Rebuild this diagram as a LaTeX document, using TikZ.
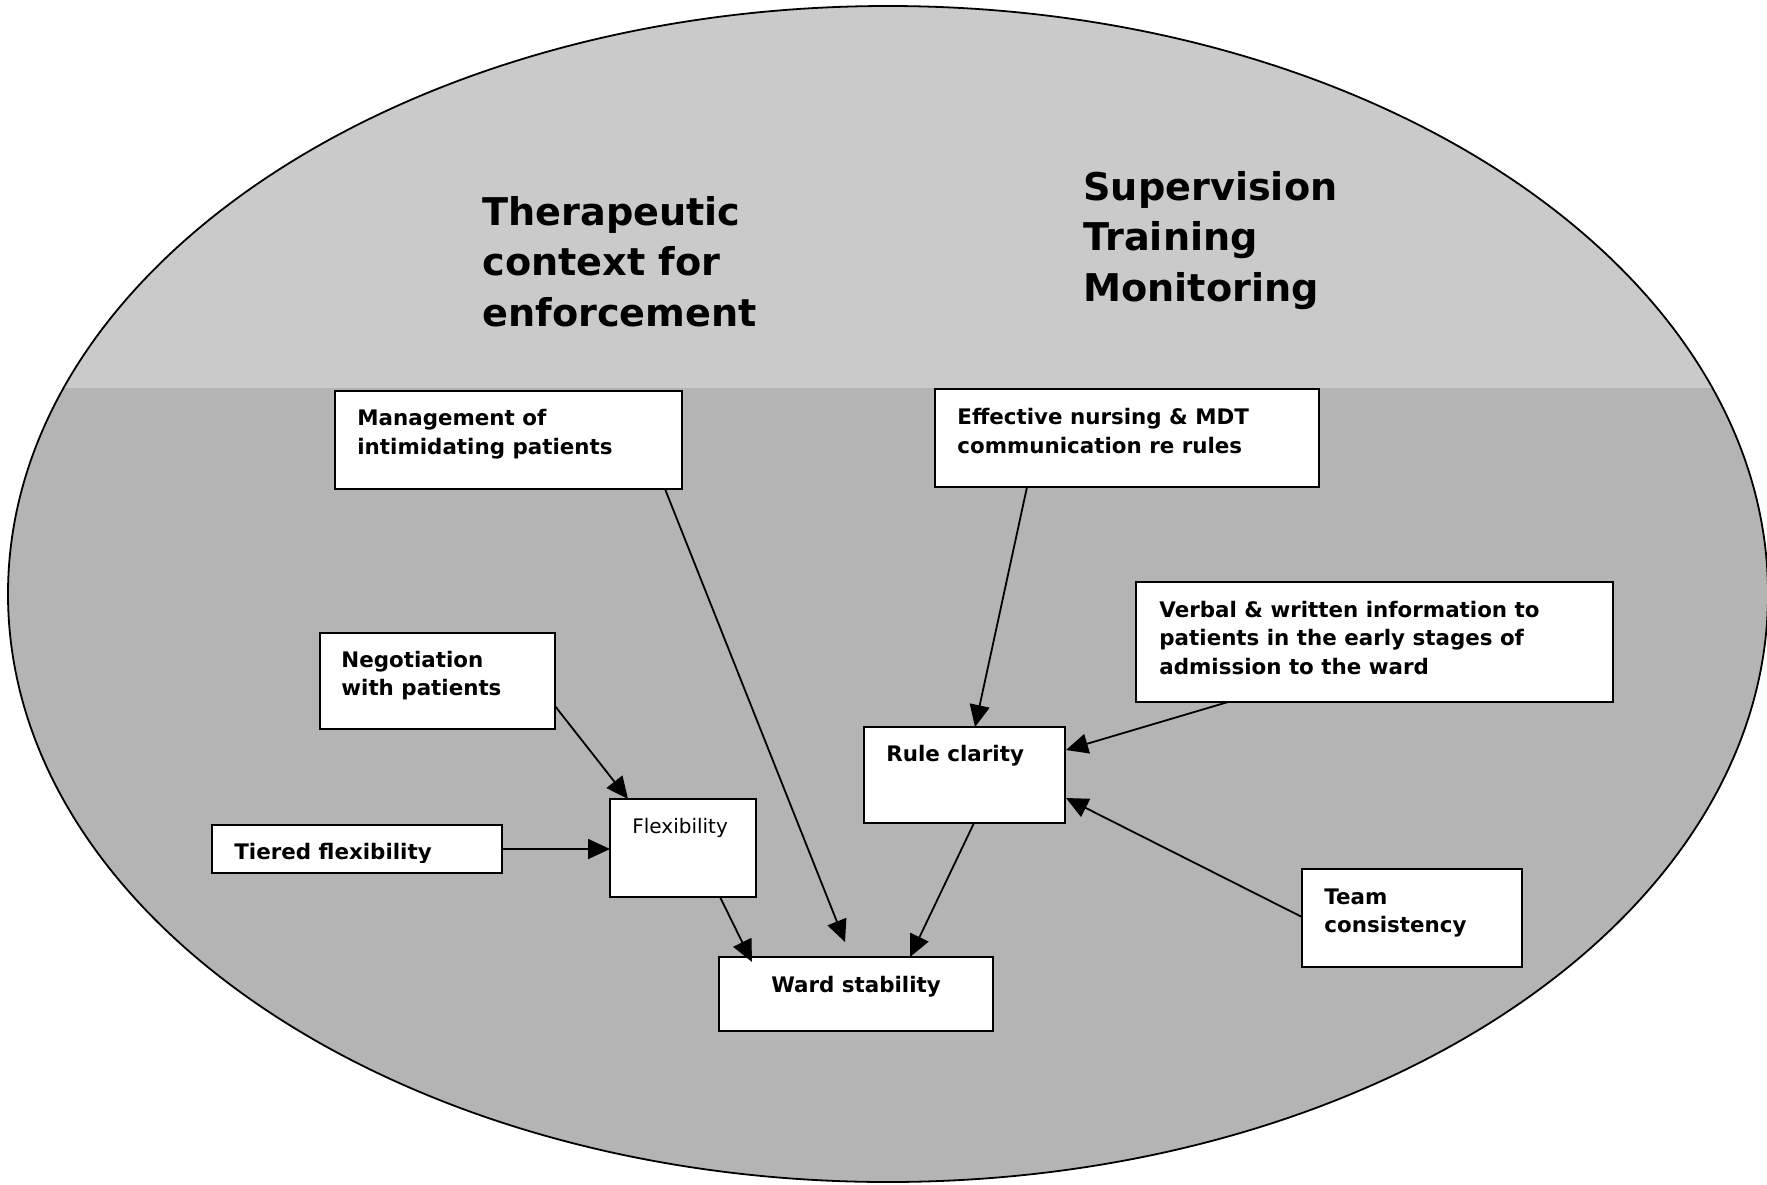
\documentclass[tikz,border=0pt]{standalone}
\usepackage{fontspec}
\setmainfont{DejaVu Sans}
\usetikzlibrary{arrows.meta,calc}
\definecolor{upgray}{RGB}{202,202,202}
\definecolor{lowgray}{RGB}{180,180,180}
\begin{document}
\begin{tikzpicture}[x=0.5pt,y=-0.5pt,
  box/.style={draw, fill=white, line width=1pt, inner sep=0pt, outer sep=0pt, anchor=north west},
  txt/.style={anchor=base west, inner sep=0pt, font=\bfseries\fontsize{10.7}{14.4}\selectfont},
  title/.style={anchor=base west, inner sep=0pt, font=\bfseries\fontsize{19.1}{25.3}\selectfont},
  arr/.style={-{Triangle[length=11pt,width=10pt]}, line width=0.9pt}]
\useasboundingbox (0,0) rectangle (1767,1184);
% background ellipse
\fill[lowgray] (888,594) ellipse [x radius=880, y radius=588];
\begin{scope}
  \clip (888,594) ellipse [x radius=880, y radius=588];
  \fill[upgray] (0,0) rectangle (1767,388);
\end{scope}
\draw[line width=0.9pt] (888,594) ellipse [x radius=880, y radius=588];
% titles
\node[title] (ttl1) at (482,225) {\parbox[t]{300pt}{\raggedright Therapeutic\\context for\\enforcement}};
\node[title] (ttl2) at (1083,200) {\parbox[t]{300pt}{\raggedright Supervision\\Training\\Monitoring}};
% boxes
\node[box, minimum width=173.5pt, minimum height=49pt] (mgmt) at (335,391) {};
\node[box, minimum width=192pt, minimum height=49pt] (eff) at (935,389) {};
\node[box, minimum width=238.5pt, minimum height=60pt] (verbal) at (1136,582) {};
\node[box, minimum width=117.5pt, minimum height=48pt] (neg) at (320,633) {};
\node[box, minimum width=145pt, minimum height=24pt] (tier) at (212,825) {};
\node[box, minimum width=73pt, minimum height=49pt] (flex) at (610,799) {};
\node[box, minimum width=100.5pt, minimum height=48pt] (rule) at (864,727) {};
\node[box, minimum width=110pt, minimum height=49pt] (team) at (1302,869) {};
\node[box, minimum width=137pt, minimum height=37pt] (ward) at (719,957) {};
% box texts
\node[txt] (mgmtT) at ($(mgmt.north west)+(22,34.5)$) {\parbox[t]{300pt}{\raggedright Management of\\intimidating patients}};
\node[txt] (effT) at ($(eff.north west)+(22,35.5)$) {\parbox[t]{300pt}{\raggedright Effective nursing \& MDT\\communication re rules}};
\node[txt] (verbalT) at ($(verbal.north west)+(23,35)$) {\parbox[t]{300pt}{\raggedright Verbal \& written information to\\patients in the early stages of\\admission to the ward}};
\node[txt] (negT) at ($(neg.north west)+(21,34)$) {\parbox[t]{300pt}{\raggedright Negotiation\\with patients}};
\begin{scope}
  \clip (tier.north west) rectangle ($(tier.south east)+(0,-11)$);
  \node[txt] (tierT) at ($(tier.north west)+(22,34)$) {Tiered flexibility};
\end{scope}
\node[txt, font=\fontsize{10}{14}\selectfont] (flexT) at ($(flex.north west)+(22,34)$) {Flexibility};
\node[txt] (ruleT) at ($(rule.north west)+(22,34)$) {Rule clarity};
\node[txt] (teamT) at ($(team.north west)+(22,35)$) {\parbox[t]{300pt}{\raggedright Team\\consistency}};
\node[txt, anchor=base] (wardT) at ($(ward.north)+(0,35)$) {Ward stability};
% connectors
\draw[arr] ($(mgmt.south east)+(-17,0)$) -- ($(ward.north west)+(126,-15)$);
\draw[arr] ($(neg.south east)+(0,-23)$) -- ($(flex.north west)+(18,0)$);
\draw[arr] (tier.east) -- (tier.east -| flex.west);
\draw[arr] ($(flex.south west)+(110,0)$) -- ($(ward.north west)+(33,5)$);
\draw[arr] ($(eff.south west)+(92,0)$) -- ($(rule.north west)+(111,0)$);
\draw[arr] ($(verbal.south west)+(92,0)$) -- ($(rule.north east)+(1,23)$);
\draw[arr] ($(team.north west)+(0,48)$) -- ($(rule.north east)+(1,71)$);
\draw[arr] ($(rule.south west)+(110,0)$) -- ($(ward.north west)+(191,0)$);
\end{tikzpicture}
\end{document}
